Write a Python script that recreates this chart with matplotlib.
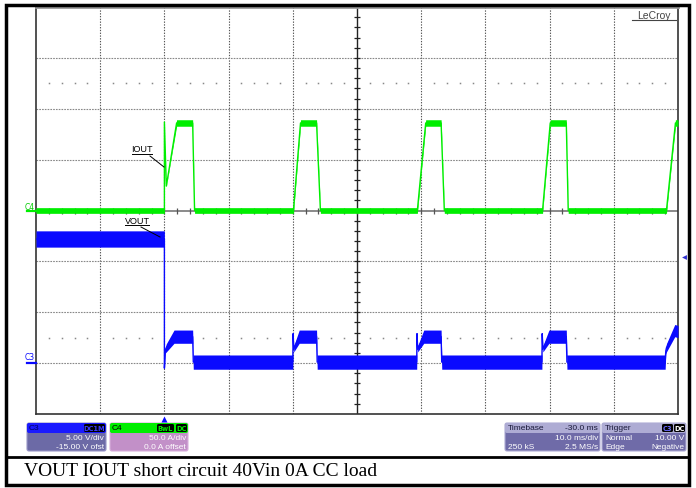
import numpy as np
import matplotlib
matplotlib.use("Agg")
import matplotlib.pyplot as plt
from matplotlib.patches import Rectangle, FancyBboxPatch

# scope settings
time_per_div = 10.0      # ms/div
t_left = -20.0           # ms at left edge of screen
c3_volts_div = 5.0
c3_offset = -15.0
c4_amps_div = 50.0
c4_offset = 0.0

# C4 - IOUT (A): breakpoints, level and noise half-width
t_iout = [-20, 0, 0, 0.3, 1.9, 4.4, 4.7, 20.1, 21.2, 23.7, 24.3, 39.4, 40.7,
          43.1, 43.6, 58.9, 60.1, 62.6, 62.9, 78.2, 79.6, 80]
iout = [0, 0, 87, 24, 86, 86, 0, 0, 86, 86, 0, 0, 86, 86, 0, 0, 86, 86, 0, 0, 86, 86]
iout_noise = [2.8, 2.8, 0.4, 0.4, 3.2, 3.2, 2.8, 2.8, 3.2, 3.2, 2.8, 2.8, 3.2, 3.2,
              2.8, 2.8, 3.2, 3.2, 2.8, 2.8, 3.2, 3.2]

# C3 - VOUT (V)
t_vout = [-20, 0, 0, 0.15, 0.3, 1.5, 4.4, 4.5, 20.0, 20.05, 20.15, 21.0, 23.7, 23.8,
          39.3, 39.35, 39.45, 40.4, 43.1, 43.2, 58.8, 58.85, 58.95, 59.9, 62.6, 62.7,
          78.0, 78.1, 78.2, 79.5, 80]
vout = [12.2, 12.2, -0.5, 1.3, 1.5, 2.6, 2.6, 0.1, 0.1, 2.9, 1.4, 2.6, 2.6, 0.1,
        0.1, 2.9, 1.4, 2.6, 2.6, 0.1, 0.1, 2.9, 1.4, 2.6, 2.6, 0.1,
        0.1, 1.2, 1.5, 3.2, 3.1]
vout_noise = [0.8, 0.8, 0.05, 0.3, 0.4, 0.65, 0.65, 0.7, 0.7, 0.1, 0.3, 0.65, 0.65, 0.7,
              0.7, 0.1, 0.3, 0.65, 0.65, 0.7, 0.7, 0.1, 0.3, 0.65, 0.65, 0.7,
              0.7, 0.3, 0.4, 0.6, 0.6]

caption = "VOUT IOUT short circuit 40Vin 0A CC load"

W, H = 696, 489
fig = plt.figure(figsize=(W / 100, H / 100), dpi=100)
fig.patch.set_facecolor("white")

# screen area in pixels
gx0, gx1, gy0, gy1 = 36, 678, 8, 415
ax = fig.add_axes([gx0 / W, 1 - gy1 / H, (gx1 - gx0) / W, (gy1 - gy0) / H])
ax.set_xlim(t_left, t_left + 10 * time_per_div)
ax.set_ylim(-4, 4)
ax.set_xticks([])
ax.set_yticks([])
for s in ["left", "bottom", "right"]:
    ax.spines[s].set_color("#333333")
    ax.spines[s].set_linewidth(1.2)
ax.spines["top"].set_color("#999999")
ax.spines["top"].set_linewidth(2)

# graticule
center_t = t_left + 5 * time_per_div
for k in range(1, 10):
    t = t_left + k * time_per_div
    if k != 5:
        ax.axvline(t, color="#555555", lw=0.8, ls=(0, (1.2, 1.3)), zorder=1)
for d in [-3, -2, -1, 1, 2, 3]:
    ax.axhline(d, color="#888888", lw=0.8, ls=(0, (1.5, 1)), zorder=1)
dots_t = [t for t in np.arange(t_left, t_left + 100, 2) if (t - t_left) % 10 != 0]
for d in [2.5, -2.5]:
    ax.plot(dots_t, [d] * len(dots_t), ls="none", marker="s", ms=1.1,
            color="#888888", mec="none", zorder=1)
ax.axhline(0, color="#777777", lw=1.2, zorder=1)
ax.axvline(center_t, color="#222222", lw=1.0, zorder=1)
ax.plot([center_t] * 39, np.arange(-3.8, 4, 0.2), ls="none", marker="_", ms=5,
        mew=0.9, color="#222222", zorder=1)
ax.plot(np.arange(t_left + 2, t_left + 100, 2), [0] * 49, ls="none", marker="|",
        ms=5, mew=0.9, color="#555555", zorder=1)

# traces, in divisions
t_i = np.array(t_iout)
i_div = (np.array(iout) + c4_offset) / c4_amps_div
i_n = np.array(iout_noise) / c4_amps_div
t_v = np.array(t_vout)
v_div = (np.array(vout) + c3_offset) / c3_volts_div
v_n = np.array(vout_noise) / c3_volts_div

green = "#00ee00"
blue = "#0a0aff"
ax.fill_between(t_v, v_div - v_n, v_div + v_n, color=blue, lw=0, zorder=3)
ax.plot(t_v, v_div, color=blue, lw=1.0, zorder=3)
ax.fill_between(t_i, i_div - i_n, i_div + i_n, color=green, lw=0, zorder=4)
ax.plot(t_i, i_div, color=green, lw=1.0, zorder=4)

# overlay in pixel coordinates
ov = fig.add_axes([0, 0, 1, 1], zorder=5)
ov.set_xlim(0, W)
ov.set_ylim(H, 0)
ov.axis("off")

ov.add_patch(Rectangle((6, 6), 683, 480, fill=False, ec="black", lw=2.5))
ov.plot([6, 689], [458, 458], color="black", lw=2)
ov.text(24, 472, caption, family="Liberation Serif", fontsize=14, va="center", ha="left")

# LeCroy logo
ov.text(654, 16, "LeCroy", fontsize=7.5, color="#444444", ha="center", va="center",
        family="Liberation Sans")
ov.plot([632, 676], [21, 21], color="#444444", lw=0.8)

# channel markers
ov.text(30, 207, "C4", fontsize=5.5, color="#00cc00", ha="center", va="center")
ov.plot([27, 36], [212, 212], color=green, lw=1.6)
ov.text(30, 357, "C3", fontsize=5.5, color=blue, ha="center", va="center")
ov.plot([27, 36], [364, 364], color=blue, lw=1.6)
ov.plot([164], [420], marker="^", ms=5, color=blue, mec="none")
ov.plot([684], [258], marker="<", ms=3.5, color="#3030d0", mec="none")

# trace labels
ov.text(142, 150, "IOUT", fontsize=6.5, ha="center", va="center", family="Liberation Sans")
ov.plot([132, 152], [155, 155], color="black", lw=0.7)
ov.plot([150, 164], [157, 168], color="black", lw=0.7)
ov.text(137, 221, "VOUT", fontsize=6.5, ha="center", va="center", family="Liberation Sans")
ov.plot([125, 149], [226, 226], color="black", lw=0.7)
ov.plot([141, 160], [228, 238], color="black", lw=0.7)


def box(x, y, w, h, fc, ec="none", r=2.0):
    ov.add_patch(FancyBboxPatch((x, y), w, h, boxstyle=f"round,pad=0,rounding_size={r}",
                                fc=fc, ec=ec, lw=0.8))


def badge(x, y, label, fg, w):
    box(x, y, w, 8, "black", r=1.5)
    ov.text(x + w / 2, y + 4.2, label, fontsize=4.8, color=fg, ha="center", va="center",
            fontweight="bold")


txt = dict(fontsize=6, va="center", family="Liberation Sans")

# C3 descriptor
box(27, 424, 79, 28, "#6c6aa6", ec="#9a98c8")
box(27, 424, 79, 10, "#1a1aff")
ov.text(29, 429, "C3", color="#000060", ha="left", **txt)
badge(84, 425, "DC1M", "#3a3aff", 21)
ov.text(104, 438.5, "5.00 V/div", color="white", ha="right", **txt)
ov.text(104, 447.5, "-15.00 V ofst", color="white", ha="right", **txt)

# C4 descriptor
box(110, 424, 78, 28, "#c290c8", ec="#d8b0dc")
box(110, 424, 78, 10, "#00ee00")
ov.text(112, 429, "C4", color="black", ha="left", **txt)
badge(157, 425, "BwL", green, 17)
badge(176, 425, "DC", green, 11)
ov.text(186, 438.5, "50.0 A/div", color="white", ha="right", **txt)
ov.text(186, 447.5, "0.0 A offset", color="white", ha="right", **txt)

# timebase descriptor
box(505, 424, 95, 28, "#6f6ba8", ec="#aeacd4")
box(505, 424, 95, 10, "#aeacd4")
ov.text(508, 429, "Timebase", color="#1a1a3a", ha="left", **txt)
ov.text(598, 429, "-30.0 ms", color="#1a1a3a", ha="right", **txt)
ov.text(598, 438.5, "10.0 ms/div", color="white", ha="right", **txt)
ov.text(508, 447.5, "250 kS", color="white", ha="left", **txt)
ov.text(598, 447.5, "2.5 MS/s", color="white", ha="right", **txt)

# trigger descriptor
box(602, 424, 84, 28, "#6f6ba8", ec="#aeacd4")
box(602, 424, 84, 10, "#aeacd4")
ov.text(605, 429, "Trigger", color="#1a1a3a", ha="left", **txt)
badge(662, 425, "C3", "#6a6aff", 11)
badge(674, 425, "DC", "white", 11)
ov.text(605, 438.5, "Normal", color="white", ha="left", **txt)
ov.text(684, 438.5, "10.00 V", color="white", ha="right", **txt)
ov.text(605, 447.5, "Edge", color="white", ha="left", **txt)
ov.text(684, 447.5, "Negative", color="white", ha="right", **txt)

fig.savefig("out.png", dpi=100)
